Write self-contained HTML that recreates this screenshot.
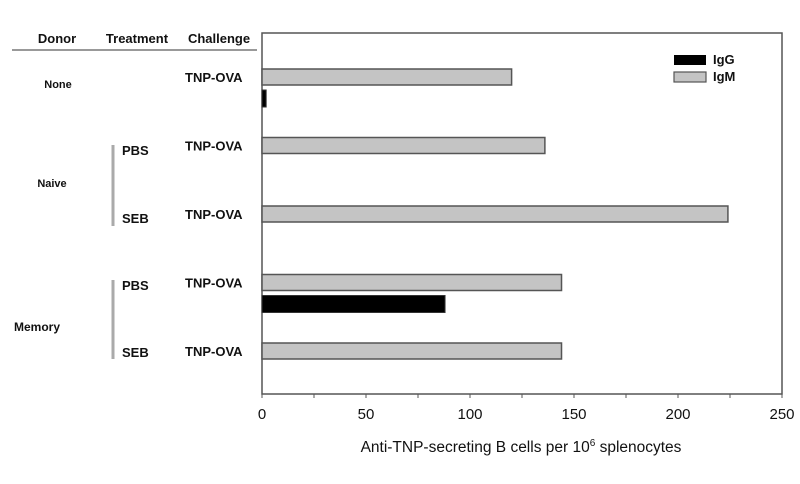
<!DOCTYPE html>
<html><head><meta charset="utf-8"><style>
body{margin:0;background:#fff;}
svg{display:block;font-family:"Liberation Sans",Arial,sans-serif;}
</style></head><body>
<svg id="chart" width="800" height="484" viewBox="0 0 800 484">
<g font-weight="bold" fill="#111">
<text x="57" y="43" font-size="13" text-anchor="middle">Donor</text>
<text x="137" y="43" font-size="13" text-anchor="middle">Treatment</text>
<text x="219" y="43" font-size="13" text-anchor="middle">Challenge</text>
<line x1="12" y1="50" x2="257" y2="50" stroke="#999" stroke-width="2"/>
<text x="58" y="88" font-size="11" text-anchor="middle">None</text>
<text x="52" y="187" font-size="11" text-anchor="middle">Naive</text>
<text x="37" y="331" font-size="12" text-anchor="middle">Memory</text>
<line x1="113" y1="145" x2="113" y2="226" stroke="#aaa" stroke-width="3"/>
<line x1="113" y1="280" x2="113" y2="359" stroke="#aaa" stroke-width="3"/>
<text x="122" y="155" font-size="13">PBS</text>
<text x="122" y="223" font-size="13">SEB</text>
<text x="122" y="290" font-size="13">PBS</text>
<text x="122" y="357" font-size="13">SEB</text>
</g>
<g id="plot"></g>
</svg>
<script>
const categories=["None","Naive PBS","Naive SEB","Memory PBS","Memory SEB"];
const igmValues=[120,136,224,144,144];
const iggValues=[2,0,0,88,0];
const xTicks=[0,50,100,150,200,250];
const xMin=0,xMax=250;
const NS="http://www.w3.org/2000/svg";
const plot=document.getElementById('plot');
const L=262,R=782,T=33,B=394;
function xs(v){return L+(v-xMin)/(xMax-xMin)*(R-L);}
function yc(i){return 77+i*68.5;}
function mk(t,a){const e=document.createElementNS(NS,t);for(const k in a)e.setAttribute(k,a[k]);plot.appendChild(e);return e;}
let f=mk('rect',{x:L,y:T,width:R-L,height:B-T,fill:'none',stroke:'#555','stroke-width':1.5});


for(let v=xMin;v<=xMax;v+=25){
  const t=mk('line',{x1:xs(v),y1:B,x2:xs(v),y2:B+4,stroke:'#555','stroke-width':1});
  
  
}
xTicks.forEach(v=>{
  const t=mk('text',{x:xs(v),y:419,'font-size':15,'text-anchor':'middle',fill:'#111'});
  t.textContent=v;
  
  
});
const at=mk('text',{x:521,y:452,'font-size':15.5,'text-anchor':'middle',fill:'#111'});
at.innerHTML='Anti-TNP-secreting B cells per 10<tspan dy="-6" font-size="10">6</tspan><tspan dy="6"> splenocytes</tspan>';


categories.forEach((c,i)=>{
  const lab=mk('text',{x:185,y:yc(i)+5,'font-size':13,'font-weight':'bold',fill:'#111'});
  lab.textContent='TNP-OVA';
  
  
  const b=mk('rect',{x:L,y:yc(i)-8,width:xs(igmValues[i])-L,height:16,fill:'#c4c4c4',stroke:'#555','stroke-width':1.5});
  
  
  if(iggValues[i]>0){
    const g=mk('rect',{x:L,y:yc(i)+13,width:xs(iggValues[i])-L,height:17,fill:'#000',stroke:'#333','stroke-width':1});
    
    
  }
});
const s1=mk('rect',{x:674,y:55,width:32,height:10,fill:'#000'});


const s2=mk('rect',{x:674,y:72,width:32,height:10,fill:'#c4c4c4',stroke:'#555','stroke-width':1.2});


const l1=mk('text',{x:713,y:64,'font-size':13,'font-weight':'bold',fill:'#111'});l1.textContent='IgG';


const l2=mk('text',{x:713,y:81,'font-size':13,'font-weight':'bold',fill:'#111'});l2.textContent='IgM';


</script>
</body></html>
